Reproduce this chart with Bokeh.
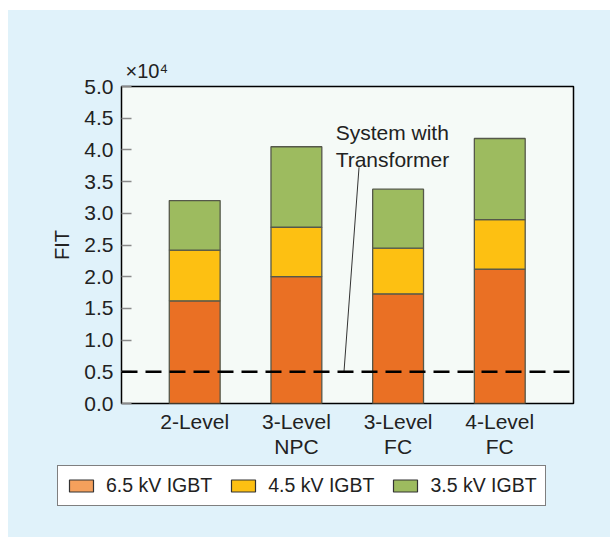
from bokeh.plotting import figure
from bokeh.layouts import column
from bokeh.models import (ColumnDataSource, Range1d, FixedTicker, Span, Label,
                          Legend, LegendItem, PrintfTickFormatter)
from bokeh.embed import file_html
from bokeh.resources import INLINE

# ---- data ----
categories = ["2-Level", "3-Level\nNPC", "3-Level\nFC", "4-Level\nFC"]
fit_65kv = [16200, 20000, 17300, 21200]
fit_45kv = [8000, 7800, 7200, 7800]
fit_35kv = [7800, 12700, 9300, 12800]
series_names = ["6.5 kV IGBT", "4.5 kV IGBT", "3.5 kV IGBT"]
y_ticks = [0.0, 0.5, 1.0, 1.5, 2.0, 2.5, 3.0, 3.5, 4.0, 4.5, 5.0]
threshold_fit = 5000
annotation_text = "System with\nTransformer"
multiplier_text = "\u00d710\u2074"
scale = 1e4

bar_colors = ["#ea7024", "#fdc012", "#9dbb5f"]
legend_colors = ["#f5a05c", "#fdc012", "#9dbb5f"]
FONT = "Liberation Sans"
BG = "#e0f2fa"

xs = list(range(1, len(categories) + 1))
src = ColumnDataSource(dict(
    x=xs,
    s65=[v / scale for v in fit_65kv],
    s45=[v / scale for v in fit_45kv],
    s35=[v / scale for v in fit_35kv],
))

p = figure(width=602, height=450, output_backend="svg", toolbar_location=None,
           x_range=Range1d(0.28, 4.725), y_range=Range1d(0, 5.0),
           min_border_left=113, min_border_right=37, min_border_top=76,
           min_border_bottom=57)

p.background_fill_color = "#f5faf7"
p.border_fill_color = BG
p.outline_line_color = "black"
p.outline_line_width = 1.5
p.xgrid.visible = False
p.ygrid.visible = False

# multiplier as title
p.title.text = multiplier_text
p.title.align = "left"
p.title.offset = 4
p.title.standoff = 10
p.title.text_font = FONT
p.title.text_font_size = "20px"
p.title.text_font_style = "normal"
p.title.text_color = "#222222"

renderers = p.vbar_stack(["s65", "s45", "s35"], x="x", width=0.5, source=src,
                         color=bar_colors, line_color="#55584a", line_width=1.3)

# threshold dashed line
thr = threshold_fit / scale
p.add_layout(Span(location=thr, dimension="width", line_color="black",
                  line_width=2.5, line_dash="16 8"))

# annotation + leader line
p.segment(x0=[2.616], y0=[3.727], x1=[2.468], y1=[thr], line_color="#333333",
          line_width=1)
p.add_layout(Label(x=2.386, y=4.45, text=annotation_text, text_font=FONT,
                   text_font_size="21px", text_color="#222222",
                   text_baseline="top", text_align="left", text_line_height=1.15))

# y axis
ya = p.yaxis[0]
ya.ticker = FixedTicker(ticks=y_ticks)
ya.formatter = PrintfTickFormatter(format="%.1f")
ya.minor_tick_line_color = None
ya.major_tick_in = 10
ya.major_tick_out = 0
ya.major_tick_line_color = "#8a8a8a"
ya.major_tick_line_width = 1.5
ya.axis_line_color = None
ya.major_label_text_font = FONT
ya.major_label_text_font_size = "21px"
ya.major_label_text_color = "#222222"
ya.major_label_standoff = 8
ya.axis_label = "FIT"
ya.axis_label_text_font = FONT
ya.axis_label_text_font_size = "20px"
ya.axis_label_text_font_style = "normal"
ya.axis_label_text_color = "#222222"
ya.axis_label_standoff = 8

# x axis
xa = p.xaxis[0]
xa.ticker = FixedTicker(ticks=xs)
xa.major_label_overrides = {x: c for x, c in zip(xs, categories)}
xa.major_tick_line_color = None
xa.minor_tick_line_color = None
xa.axis_line_color = None
xa.major_label_text_font = FONT
xa.major_label_text_font_size = "21px"
xa.major_label_text_color = "#222222"
xa.major_label_text_line_height = 1.1
xa.major_label_standoff = 0

# ---- legend strip ----
pl = figure(frame_width=602, frame_height=77, output_backend="svg",
            toolbar_location=None, x_range=Range1d(0, 1), y_range=Range1d(0, 1),
            min_border_left=0, min_border_right=0, min_border_top=0,
            min_border_bottom=0, x_axis_type=None, y_axis_type=None)
pl.background_fill_color = BG
pl.border_fill_color = BG
pl.outline_line_color = None
pl.xgrid.visible = False
pl.ygrid.visible = False

nan = float("nan")
leg_items = []
for name, col in zip(series_names, legend_colors):
    r = pl.vbar(x=[nan], top=[nan], width=0.5, fill_color=col,
                line_color="#333333", line_width=1.2)
    leg_items.append(LegendItem(label=name, renderers=[r]))

legend = Legend(items=leg_items, orientation="horizontal", location=(49, 31),
                margin=0, padding=8, spacing=16, glyph_width=30, glyph_height=15,
                label_standoff=10, label_height=22, label_text_font=FONT,
                label_text_font_size="19.5px", label_text_color="#222222",
                border_line_color="black", border_line_width=1.5,
                background_fill_color="white", background_fill_alpha=1.0)
pl.add_layout(legend, "center")

layout = column(p, pl, spacing=0, margin=(10, 0, 0, 8),
                styles={"background-color": BG})
open("out.html", "w").write(file_html(layout, INLINE))
